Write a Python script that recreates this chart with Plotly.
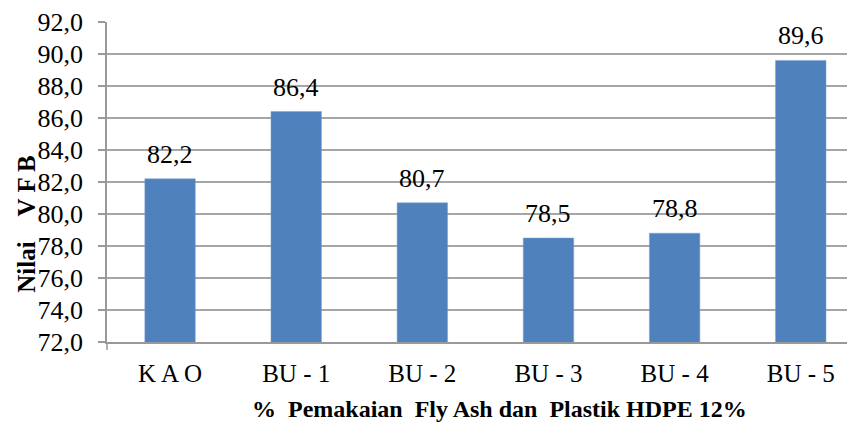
import plotly.graph_objects as go

categories = ["K A O", "BU - 1", "BU - 2", "BU - 3", "BU - 4", "BU - 5"]
vfb_values = [82.2, 86.4, 80.7, 78.5, 78.8, 89.6]
y_ticks = [72, 74, 76, 78, 80, 82, 84, 86, 88, 90, 92]
y_tick_labels = [f"{v:.1f}".replace(".", ",") for v in y_ticks]
value_labels = [f"{v:.1f}".replace(".", ",") for v in vfb_values]

FONT = "Liberation Serif"

fig = go.Figure()
fig.add_trace(go.Bar(
    x=list(range(len(categories))), y=vfb_values,
    marker=dict(color="#4f81bd", line=dict(color="#7ba0d0", width=0.5)),
    width=0.4,
))
for i, (v, t) in enumerate(zip(vfb_values, value_labels)):
    fig.add_annotation(x=i, y=v, text=t, showarrow=False, yanchor="bottom",
                       yshift=8, font=dict(family=FONT, size=26, color="black"))

fig.add_annotation(xref="paper", yref="paper", x=0.525, y=-0.21, yanchor="middle",
                   text="<b>%&nbsp;&nbsp;Pemakaian&nbsp;&nbsp;Fly Ash dan&nbsp;&nbsp;Plastik HDPE 12%</b>",
                   showarrow=False, font=dict(family=FONT, size=24, color="black"))
fig.add_annotation(xref="paper", yref="paper", x=-0.108, xanchor="center", y=0.37,
                   yanchor="middle", textangle=-90,
                   text="<b>Nilai&nbsp;&nbsp;&nbsp;&nbsp;V F B</b>",
                   showarrow=False, font=dict(family=FONT, size=25, color="black"))
fig.add_shape(type="line", xref="paper", yref="paper", x0=0, x1=0, y0=0, y1=-0.025,
              line=dict(color="#999999", width=1.5))

fig.update_layout(
    width=847, height=429,
    margin=dict(l=99, r=0, t=14, b=95, autoexpand=False),
    paper_bgcolor="white", plot_bgcolor="white",
    showlegend=False,
    font=dict(family=FONT, size=25, color="black"),
    xaxis=dict(
        range=[-0.5, 5.43], tickmode="array", automargin=False,
        tickvals=list(range(len(categories))), ticktext=categories,
        showgrid=False, showline=True, linecolor="#999999", linewidth=1.5,
        ticks="", ticklabelstandoff=8, zeroline=False,
        tickfont=dict(family=FONT, size=25, color="black"),
    ),
    yaxis=dict(
        range=[72, 92], tickmode="array", tickvals=y_ticks, ticktext=y_tick_labels,
        automargin=False,
        showgrid=True, gridcolor="#a6a6a6", gridwidth=1.5,
        showline=True, linecolor="#999999", linewidth=1.5,
        ticks="outside", ticklen=7, tickcolor="#999999", tickwidth=1.5,
        zeroline=False, ticklabelstandoff=10,
        tickfont=dict(family=FONT, size=26, color="black"),
    ),
)

fig.write_html("out.html")
